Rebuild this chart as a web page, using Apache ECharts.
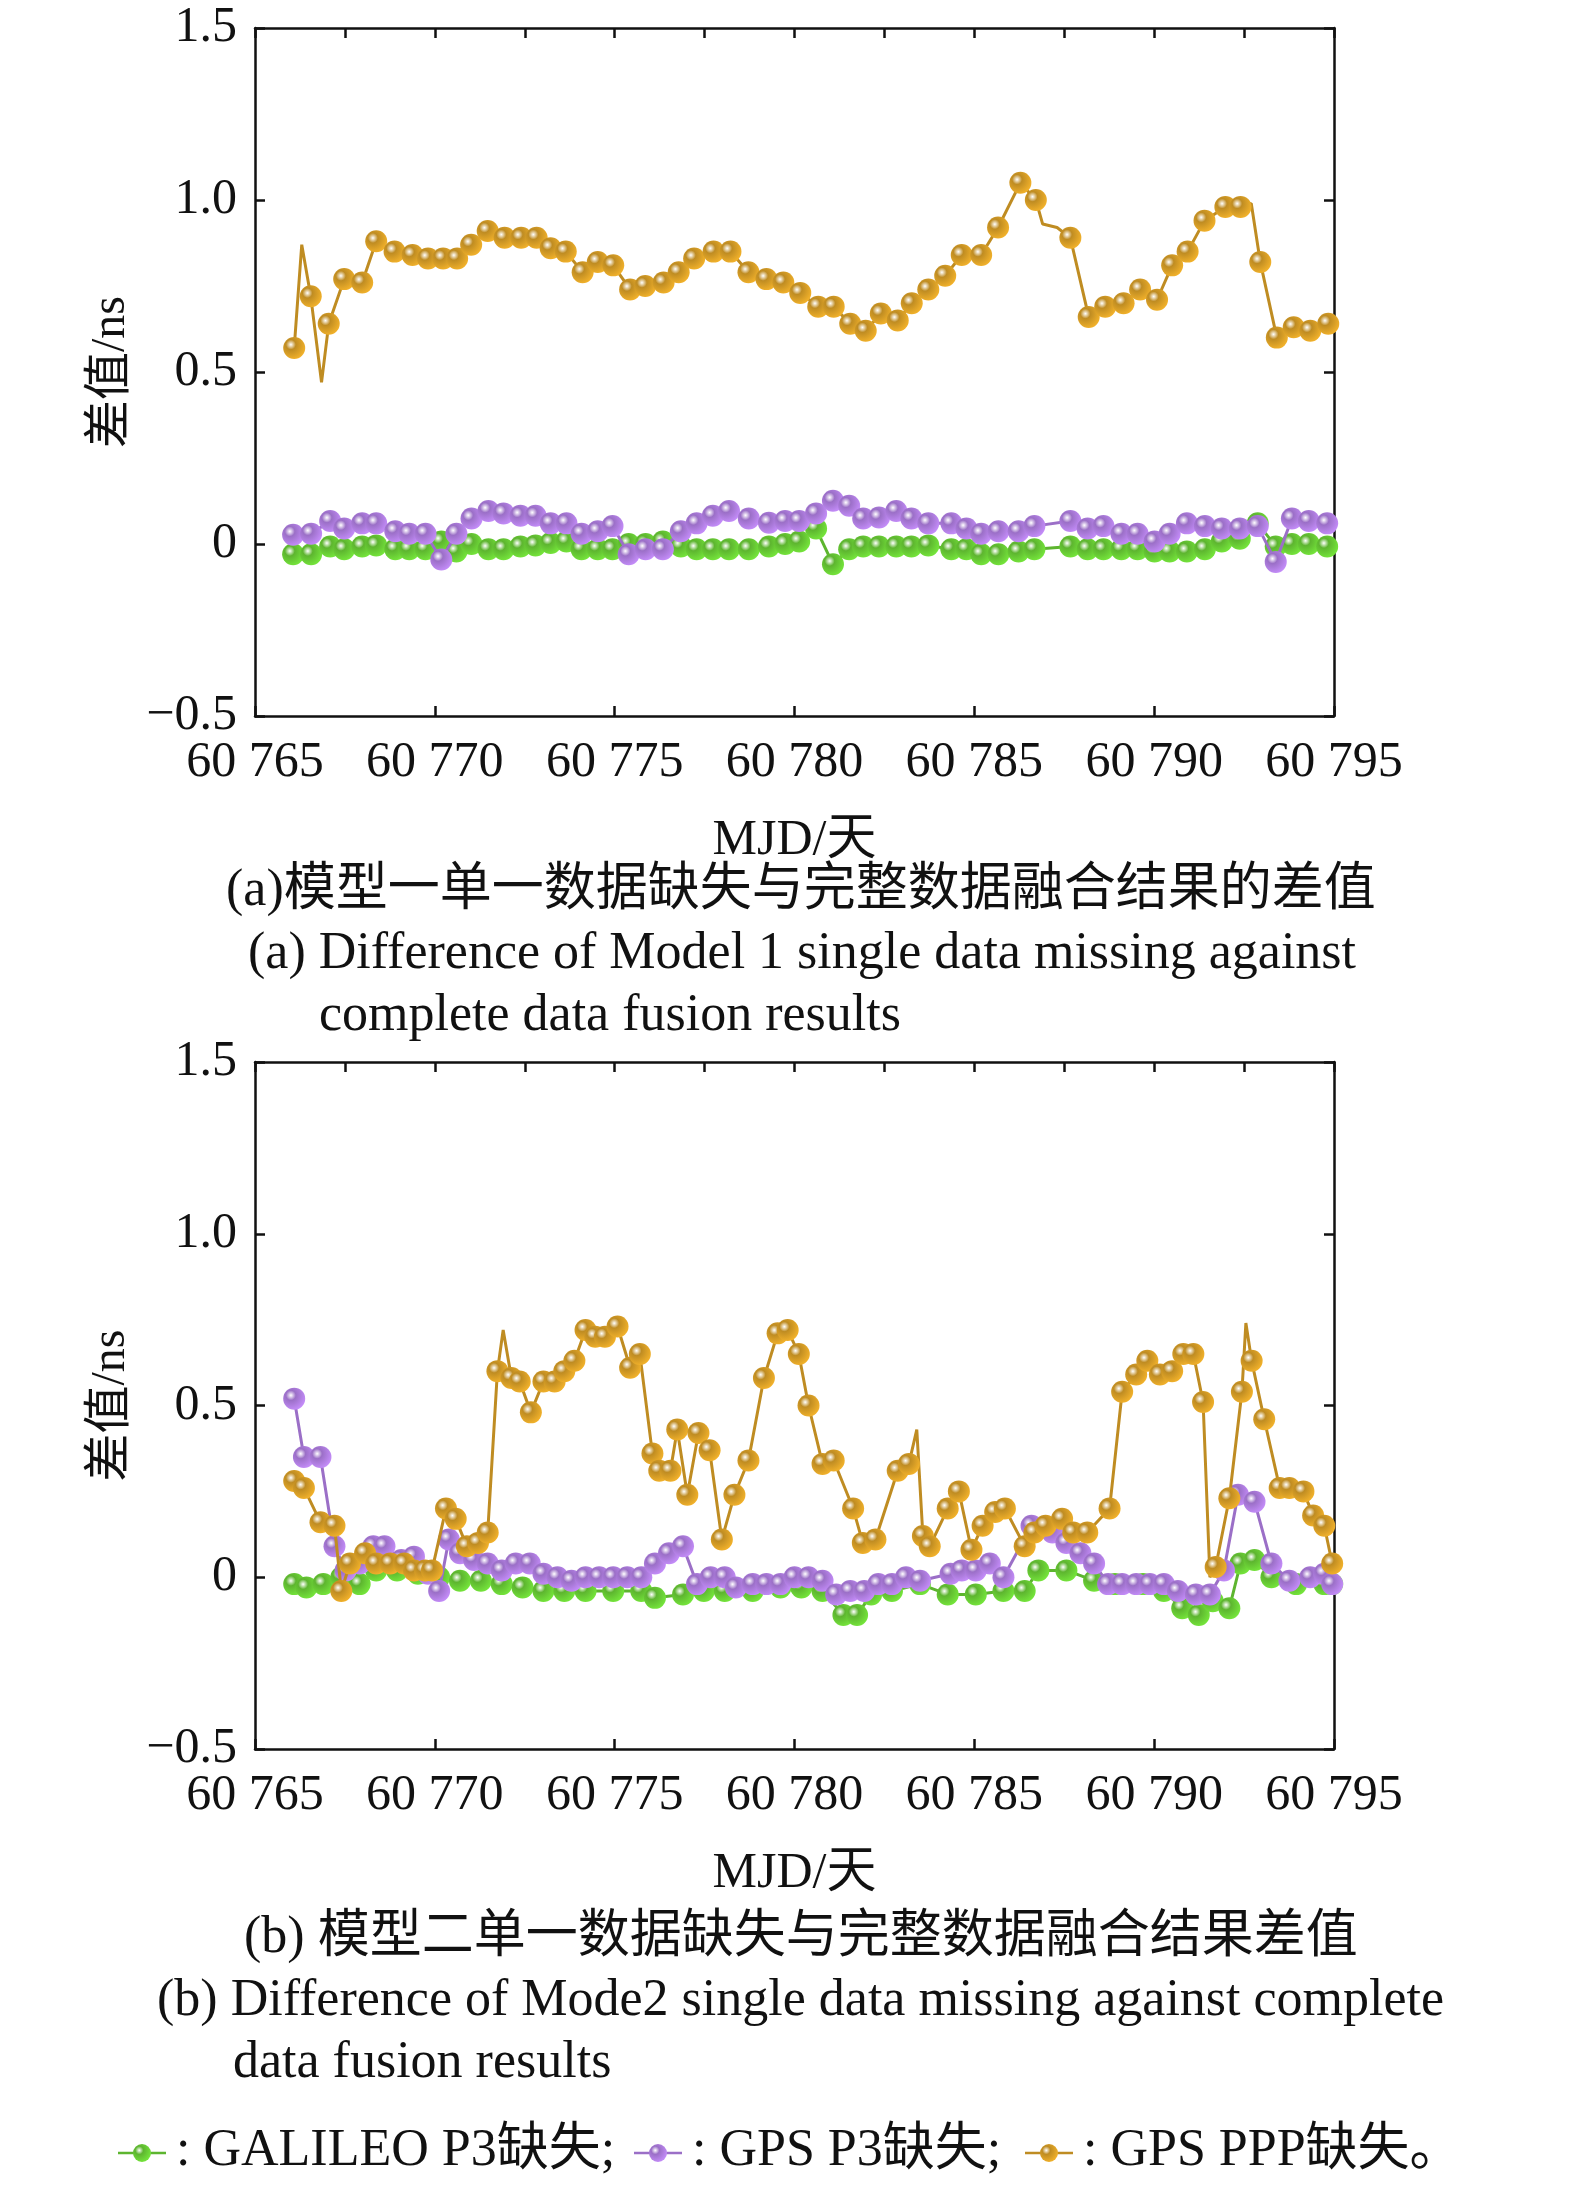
<!DOCTYPE html>
<html><head><meta charset="utf-8">
<script src="https://cdn.jsdelivr.net/npm/echarts@6/dist/echarts.min.js"></script>
<style>html,body{margin:0;background:#fff}#c{width:1575px;height:2192px}</style>
</head><body><div id="c"></div>
<script>
// Panel (a)
const aGoldX=[60766.09,60766.55,60767.05,60767.48,60767.98,60768.37,60768.88,60769.38,60769.81,60770.23,60770.62,60771.01,60771.47,60771.94,60772.40,60772.83,60773.22,60773.64,60774.11,60774.53,60774.96,60775.43,60775.85,60776.36,60776.78,60777.21,60777.75,60778.22,60778.72,60779.22,60779.69,60780.16,60780.66,60781.09,60781.55,60781.98,60782.40,60782.87,60783.26,60783.72,60784.19,60784.65,60785.19,60785.66,60786.28,60786.71,60787.67,60788.18,60788.64,60789.15,60789.61,60790.08,60790.50,60790.93,60791.40,60791.98,60792.40,60792.95,60793.41,60793.88,60794.34,60794.84];
const aGoldY=[0.57,0.72,0.64,0.77,0.76,0.88,0.85,0.84,0.83,0.83,0.83,0.87,0.91,0.89,0.89,0.89,0.86,0.85,0.79,0.82,0.81,0.74,0.75,0.76,0.79,0.83,0.85,0.85,0.79,0.77,0.76,0.73,0.69,0.69,0.64,0.62,0.67,0.65,0.70,0.74,0.78,0.84,0.84,0.92,1.05,1.00,0.89,0.66,0.69,0.70,0.74,0.71,0.81,0.85,0.94,0.98,0.98,0.82,0.60,0.63,0.62,0.64];
const aGoldLineX=[60766.3,60766.85,60786.9,60787.3,60792.7];
const aGoldLineY=[0.87,0.47,0.93,0.92,0.99];
const aPGX=[60766.06,60766.56,60767.09,60767.48,60767.98,60768.37,60768.90,60769.29,60769.74,60770.18,60770.60,60771.02,60771.49,60771.91,60772.38,60772.80,60773.22,60773.66,60774.08,60774.53,60774.94,60775.39,60775.86,60776.34,60776.84,60777.28,60777.73,60778.18,60778.73,60779.29,60779.74,60780.13,60780.60,60781.07,60781.52,60781.91,60782.35,60782.83,60783.25,60783.72,60784.36,60784.78,60785.19,60785.67,60786.23,60786.67,60787.67,60788.15,60788.59,60789.09,60789.54,60790.01,60790.43,60790.91,60791.41,60791.88,60792.38,60792.88,60793.38,60793.83,60794.30,60794.81];
const aPurpleY=[0.027,0.03,0.067,0.045,0.06,0.06,0.037,0.03,0.03,-0.045,0.03,0.074,0.096,0.089,0.082,0.082,0.06,0.06,0.03,0.037,0.052,-0.03,-0.015,-0.015,0.037,0.06,0.082,0.096,0.074,0.062,0.067,0.067,0.089,0.126,0.111,0.074,0.077,0.096,0.074,0.06,0.06,0.045,0.03,0.037,0.037,0.052,0.067,0.045,0.052,0.03,0.03,0.007,0.03,0.06,0.052,0.045,0.045,0.052,-0.052,0.074,0.067,0.06];
const aGreenY=[-0.03,-0.03,-0.007,-0.015,-0.007,-0.004,-0.015,-0.015,-0.015,0.007,-0.022,0,-0.015,-0.015,-0.007,-0.004,0.003,0.007,-0.015,-0.015,-0.015,0,0,0.007,-0.007,-0.015,-0.015,-0.015,-0.015,-0.007,0,0.007,0.045,-0.059,-0.015,-0.007,-0.007,-0.007,-0.007,-0.004,-0.015,-0.015,-0.03,-0.03,-0.022,-0.015,-0.007,-0.015,-0.015,-0.015,-0.015,-0.022,-0.022,-0.022,-0.015,0.007,0.015,0.06,-0.007,0,0,-0.007];
// Panel (b)
const bGoldX=[60766.09,60766.36,60766.82,60767.21,60767.40,60767.64,60768.06,60768.37,60768.76,60769.15,60769.42,60769.73,60769.92,60770.31,60770.58,60770.89,60771.20,60771.47,60771.74,60772.13,60772.36,60772.67,60773.02,60773.33,60773.60,60773.88,60774.19,60774.46,60774.73,60775.08,60775.43,60775.70,60776.05,60776.24,60776.55,60776.74,60777.02,60777.33,60777.64,60777.98,60778.33,60778.72,60779.15,60779.53,60779.81,60780.12,60780.39,60780.78,60781.09,60781.63,60781.90,60782.25,60782.87,60783.18,60783.57,60783.76,60784.26,60784.57,60784.92,60785.23,60785.58,60785.85,60786.40,60786.67,60786.98,60787.44,60787.75,60788.14,60788.76,60789.11,60789.50,60789.81,60790.16,60790.50,60790.81,60791.09,60791.36,60791.71,60792.09,60792.44,60792.71,60793.06,60793.49,60793.76,60794.15,60794.42,60794.73,60794.95];
const bGoldY=[0.28,0.26,0.16,0.15,-0.04,0.04,0.07,0.04,0.04,0.04,0.02,0.02,0.02,0.20,0.17,0.09,0.10,0.13,0.60,0.58,0.57,0.48,0.57,0.57,0.60,0.63,0.72,0.70,0.70,0.73,0.61,0.65,0.36,0.31,0.31,0.43,0.24,0.42,0.37,0.11,0.24,0.34,0.58,0.71,0.72,0.65,0.50,0.33,0.34,0.20,0.10,0.11,0.31,0.33,0.12,0.09,0.20,0.25,0.08,0.15,0.19,0.20,0.09,0.13,0.15,0.17,0.13,0.13,0.20,0.54,0.59,0.63,0.59,0.60,0.65,0.65,0.51,0.03,0.23,0.54,0.63,0.46,0.26,0.26,0.25,0.18,0.15,0.04];
const bGoldLineX=[60771.9,60783.4,60792.55,60791.55];
const bGoldLineY=[0.72,0.43,0.74,0.0];
const bPurpleX=[60766.09,60766.36,60766.82,60767.21,60767.52,60767.91,60768.29,60768.60,60769.07,60769.42,60769.81,60770.12,60770.39,60770.70,60771.09,60771.47,60771.86,60772.25,60772.64,60773.02,60773.41,60773.80,60774.19,60774.57,60774.96,60775.35,60775.74,60776.12,60776.51,60776.90,60777.29,60777.67,60778.06,60778.37,60778.84,60779.22,60779.61,60780.00,60780.39,60780.78,60781.16,60781.55,60781.94,60782.33,60782.71,60783.10,60783.49,60784.34,60784.65,60785.04,60785.43,60785.81,60786.59,60787.17,60787.56,60787.95,60788.33,60788.72,60789.11,60789.50,60789.88,60790.27,60790.66,60791.16,60791.55,60791.94,60792.33,60792.79,60793.26,60793.76,60794.34,60794.73,60794.95];
const bPurpleY=[0.52,0.35,0.35,0.09,0.02,0.04,0.09,0.09,0.05,0.06,0.01,-0.04,0.11,0.07,0.05,0.04,0.02,0.04,0.04,0.01,0,-0.01,0,0,0,0,0,0.04,0.07,0.09,-0.02,0,0,-0.03,-0.02,-0.02,-0.02,0,0,-0.01,-0.05,-0.04,-0.04,-0.02,-0.02,0,-0.01,0.01,0.02,0.02,0.04,0,0.15,0.13,0.10,0.07,0.04,-0.02,-0.02,-0.02,-0.02,-0.02,-0.04,-0.05,-0.05,0.02,0.24,0.22,0.04,-0.01,0,0.01,-0.02];
const bGreenX=[60766.09,60766.43,60766.90,60767.40,60767.91,60768.37,60768.95,60769.53,60770.12,60770.70,60771.28,60771.86,60772.44,60773.02,60773.60,60774.19,60774.96,60775.74,60776.12,60776.90,60777.48,60778.06,60778.84,60779.61,60780.19,60780.78,60781.36,60781.74,60782.13,60782.71,60783.49,60784.26,60785.04,60785.81,60786.40,60786.78,60787.56,60788.33,60788.91,60789.69,60790.27,60790.78,60791.24,60791.63,60792.09,60792.40,60792.79,60793.26,60793.95,60794.73,60794.95];
const bGreenY=[-0.02,-0.03,-0.02,0,-0.02,0.02,0.02,0.01,0,-0.01,-0.01,-0.02,-0.03,-0.04,-0.04,-0.04,-0.04,-0.04,-0.06,-0.05,-0.04,-0.04,-0.04,-0.03,-0.03,-0.04,-0.11,-0.11,-0.05,-0.04,-0.02,-0.05,-0.05,-0.04,-0.04,0.02,0.02,-0.01,-0.02,-0.02,-0.04,-0.09,-0.11,-0.07,-0.09,0.04,0.05,0,-0.02,-0.02,-0.02];
const seriesNames=['GALILEO P3缺失','GPS P3缺失','GPS PPP缺失'];

const FONT='"Liberation Serif","Noto Sans CJK SC",serif';
const colors={g:'#5db52f',p:'#9b6fc7',o:'#bf8c22'};
function ball(c){return {type:'radial',x:0.35,y:0.35,r:0.75,colorStops:[{offset:0,color:'#ffffff'},{offset:0.3,color:c},{offset:1,color:echarts.color.lift(c,-0.3)}]};}
function zip(x,y){return x.map((v,i)=>[v,y[i]]);}
function merged(x,y,lx,ly){
  const pts=zip(x,y).map(p=>({value:p}));
  lx.forEach((v,i)=>pts.push({value:[v,ly[i]],symbol:'none'}));
  return pts.sort((a,b)=>a.value[0]-b.value[0]);
}
function ser(data,c,gi,z){return {type:'line',data,xAxisIndex:gi,yAxisIndex:gi,symbol:'circle',symbolSize:22,showSymbol:true,
 lineStyle:{color:c,width:3},itemStyle:{color:ball(c),borderWidth:0},z,animation:false};}
function fmtY(v){if(v===0)return '0';return (v<0?'\u22120.5':v.toFixed(1));}
const axLab={fontFamily:FONT,fontSize:50,color:'#111'};
const AL={onZero:false,lineStyle:{color:'#111',width:2.5}};
const AT={inside:true,length:10,lineStyle:{color:'#111',width:2.5}};
function xAx(gi){return {type:'value',gridIndex:gi,min:60765,max:60795,interval:5,
 axisLine:AL,axisTick:AT,
 splitLine:{show:false},axisLabel:{...axLab,margin:22,formatter:v=>String(v).slice(0,2)+' '+String(v).slice(2)},
 name:'MJD/天',nameLocation:'middle',nameGap:100,nameTextStyle:{fontFamily:FONT,fontSize:50,color:'#111'}};}
function xTop(gi){return {type:'value',gridIndex:gi,position:'top',min:60765,max:60795,interval:2.5,
 axisLine:AL,axisTick:AT,axisLabel:{show:false},splitLine:{show:false}};}
function yAx(gi){return {type:'value',gridIndex:gi,min:-0.5,max:1.5,interval:0.5,
 axisLine:AL,axisTick:AT,
 splitLine:{show:false},axisLabel:{...axLab,margin:18,formatter:fmtY},
 name:'差值/ns',nameLocation:'middle',nameGap:118,nameTextStyle:{fontFamily:FONT,fontSize:48,color:'#111'}};}
function yR(gi){return {type:'value',gridIndex:gi,position:'right',min:-0.5,max:1.5,interval:0.5,
 axisLine:AL,axisTick:AT,axisLabel:{show:false},splitLine:{show:false}};}

const chart=echarts.init(document.getElementById('c'));
const txt=(t,x,y)=>({type:'text',left:x,top:y,style:{text:t,font:'52px '+FONT,fill:'#111'}});
const legendItems=[];
[[118,colors.g,': GALILEO P3缺失;'],[634,colors.p,': GPS P3缺失;'],[1025,colors.o,': GPS PPP缺失。']].forEach(([lx,c,t])=>{
  legendItems.push({type:'line',shape:{x1:lx,y1:2153,x2:lx+48,y2:2153},style:{stroke:c,lineWidth:2.5}});
  legendItems.push({type:'circle',shape:{cx:lx+24,cy:2153,r:9},style:{fill:ball(c)}});
  legendItems.push({type:'text',x:lx+58,y:2125,style:{text:t,font:'52px '+FONT,fill:'#111'}});
});
chart.setOption({
 animation:false,
 grid:[{left:255,top:28,width:1079,height:688},{left:255,top:1062,width:1079,height:687}],
 xAxis:[xAx(0),xAx(1),xTop(0),xTop(1)],
 yAxis:[yAx(0),yAx(1),yR(0),yR(1)],
 series:[
  ser(zip(aPGX,aGreenY),colors.g,0,3),
  ser(zip(aPGX,aPurpleY),colors.p,0,4),
  ser(merged(aGoldX,aGoldY,aGoldLineX,aGoldLineY),colors.o,0,5),
  ser(zip(bGreenX,bGreenY),colors.g,1,3),
  ser(zip(bPurpleX,bPurpleY),colors.p,1,4),
  ser(merged(bGoldX,bGoldY,bGoldLineX,bGoldLineY),colors.o,1,5)
 ].map((s,i)=>({...s,name:seriesNames[i%3]})),
 graphic:[
  txt('(a)模型一单一数据缺失与完整数据融合结果的差值',226,865),
  txt('(a) Difference of Model 1 single data missing against',248,928),
  txt('complete data fusion results',319,990),
  txt('(b) 模型二单一数据缺失与完整数据融合结果差值',244,1912),
  txt('(b) Difference of Mode2 single data missing against complete',157,1975),
  txt('data fusion results',233,2037),
  ...legendItems
 ]
});
</script></body></html>
